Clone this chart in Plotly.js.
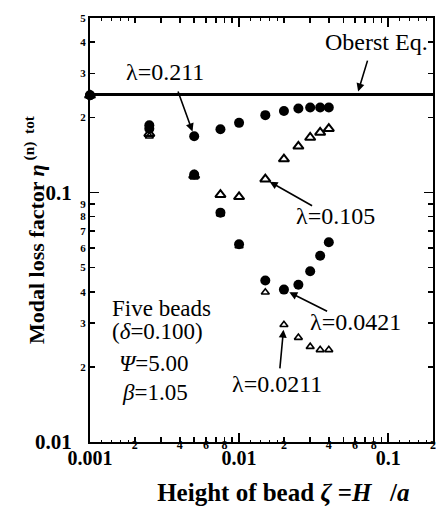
<!DOCTYPE html>
<html>
<head>
<meta charset="utf-8">
<script src="https://cdn.plot.ly/plotly-3.0.1.min.js"></script>
<style>
  html, body { margin: 0; padding: 0; background: #fff; }
  #chart { width: 436px; height: 512px; }
</style>
</head>
<body>
<div id="chart"></div>
<script>
// ---- data ----
const zeta = [0.001, 0.0025, 0.005, 0.0075, 0.01, 0.015, 0.02, 0.025, 0.03, 0.035, 0.04];
const etaLam0211 = [0.245, 0.186, 0.168, 0.179, 0.190, 0.204, 0.212, 0.217, 0.219, 0.219, 0.219];
const etaLam0105 = [0.245, 0.172, 0.117, 0.098, 0.096, 0.113, 0.136, 0.153, 0.166, 0.174, 0.180];
const etaLam00421 = [0.245, 0.180, 0.118, 0.083, 0.062, 0.0444, 0.0408, 0.0427, 0.0483, 0.0558, 0.0632];
const etaLam00211 = [0.245, 0.168, 0.115, 0.082, 0.061, 0.0398, 0.0295, 0.0262, 0.0241, 0.0234, 0.0234];
const oberstX = [0.001, 0.2];
const oberstEta = [0.247, 0.247];

const xMinorVals = [0.002,0.003,0.004,0.005,0.006,0.007,0.008,0.009,
                    0.02,0.03,0.04,0.05,0.06,0.07,0.08,0.09,0.2];
const xMinorText = ['2','','4','','6','','8','',
                    '2','','4','','6','','8','','2'];
const xFineVals = [0.0012,0.0014,0.0016,0.0018,0.012,0.014,0.016,0.018,0.12,0.14,0.16,0.18];
const xMajorVals = [0.001, 0.01, 0.1];
const xMajorText = ['0.001', '0.01', '0.1'];
const yMinorVals = [0.02,0.03,0.04,0.05,0.06,0.07,0.08,0.09,0.2,0.3,0.4,0.5];
const yMinorText = ['2','3','4','5','6','7','8','9','2','3','4','5'];
const yMajorVals = [0.01, 0.1];
const yMajorText = ['0.01', '0.1'];

const SERIF = 'Liberation Serif, Times New Roman, serif';
const lg = Math.log10;

const traces = [
  { x: zeta, y: etaLam00211, mode: 'markers', type: 'scatter', cliponaxis: false,
    marker: { symbol: 'triangle-up-open', size: 7, color: '#000', line: { width: 1.6, color: '#000' } } },
  { x: zeta, y: etaLam0105, mode: 'markers', type: 'scatter', cliponaxis: false,
    marker: { symbol: 'triangle-up-open', size: 9, color: '#000', line: { width: 2, color: '#000' } } },
  { x: zeta, y: etaLam00421, mode: 'markers', type: 'scatter', cliponaxis: false,
    marker: { symbol: 'circle', size: 10, color: '#000' } },
  { x: zeta, y: etaLam0211, mode: 'markers', type: 'scatter', cliponaxis: false,
    marker: { symbol: 'circle', size: 10, color: '#000' } },
  { x: oberstX, y: oberstEta, mode: 'lines', type: 'scatter', xaxis: 'x2', yaxis: 'y2',
    line: { color: '#000', width: 3 } }
];

const txt = (text, x, y, extra) => Object.assign({
  text: text, x: x, y: y, xref: 'x', yref: 'y', showarrow: false,
  xanchor: 'center', yanchor: 'middle',
  font: { family: SERIF, size: 24, color: '#000' }
}, extra || {});

const arrow = (ax, ay, x, y, standoff) => ({
  text: ' ', x: x, y: y, ax: ax, ay: ay, xref: 'x', yref: 'y', axref: 'x', ayref: 'y',
  showarrow: true, arrowhead: 2, arrowsize: 1, arrowwidth: 1.6, arrowcolor: '#000',
  standoff: standoff
});

const annotations = [
  txt('Oberst Eq.', -1.0805, -0.3976),
  txt('λ=0.211', -2.4966, -0.5181),
  txt('λ=0.105', -1.3557, -1.0964),
  txt('λ=0.0421', -1.2215, -1.5181),
  txt('λ=0.0211', -1.745, -1.7671),
  txt('Five beads', -2.5235, -1.4659, { font: { family: SERIF, size: 23, color: '#000' } }),
  txt('(<i>δ</i>=0.100)', -2.5503, -1.5582, { font: { family: SERIF, size: 23, color: '#000' } }),
  txt('<i>Ψ</i>=5.00', -2.5772, -1.6867, { font: { family: SERIF, size: 23, color: '#000' } }),
  txt('<i>β</i>=1.05', -2.5638, -1.8032, { font: { family: SERIF, size: 23, color: '#000' } }),
  arrow(-1.1208, -0.4378, -1.2013, lg(oberstEta[0]) + 0.012, 0),
  arrow(-2.4295, -0.5622, lg(zeta[2]), lg(etaLam0211[2]), 5),
  arrow(-1.4899, -1.0602, lg(zeta[5]), lg(etaLam0105[5]), 5),
  arrow(-1.3893, -1.4819, lg(zeta[6]), lg(etaLam00421[6]), 6),
  arrow(-1.7315, -1.7390, lg(zeta[6]), lg(etaLam00211[6]), 5)
];

const xRange = [-3, lg(0.2)];
const yRange = [-2, lg(0.5)];
const axisBase = {
  type: 'log', showgrid: false, zeroline: false,
  showline: true, linecolor: '#000', linewidth: 2,
  ticks: 'inside', tickcolor: '#000', tickwidth: 1.5, mirror: 'ticks',
  tickmode: 'array'
};

const layout = {
  width: 436, height: 512,
  margin: { l: 90, r: 3, t: 18, b: 70 },
  paper_bgcolor: '#fff', plot_bgcolor: '#fff',
  showlegend: false,
  font: { family: SERIF, color: '#000' },
  xaxis: Object.assign({}, axisBase, {
    range: xRange, tickvals: xMinorVals, ticktext: xMinorText, ticklen: 5,
    tickfont: { family: SERIF, size: 12, weight: 700, color: '#000' },
    ticklabelstandoff: -9,
    minor: { tickmode: 'array', tickvals: xFineVals, ticks: 'inside', ticklen: 2.5, tickwidth: 1, tickcolor: '#000' },
    title: { text: '&nbsp;&nbsp;&nbsp;&nbsp;&nbsp;&nbsp;&nbsp;Height of bead <i>ζ</i>&nbsp;=<i>H</i>&nbsp;&nbsp;&nbsp;/<i>a</i>',
             font: { family: SERIF, size: 25, weight: 700, color: '#000' }, standoff: 32 }
  }),
  yaxis: Object.assign({}, axisBase, {
    range: yRange, tickvals: yMinorVals, ticktext: yMinorText, ticklen: 5,
    tickfont: { family: SERIF, size: 11, weight: 700, color: '#000' },
    ticklabelstandoff: 0,
    title: { text: 'Modal loss factor <i>η</i><sup> (n)</sup><sup>&nbsp;&nbsp;tot</sup>',
             font: { family: SERIF, size: 22, weight: 700, color: '#000' }, standoff: 30 }
  }),
  xaxis2: Object.assign({}, axisBase, {
    overlaying: 'x', anchor: 'y2', side: 'bottom',
    range: xRange, tickvals: xMajorVals, ticktext: xMajorText, ticklen: 9,
    tickfont: { family: SERIF, size: 20, weight: 700, color: '#000' },
    ticklabelstandoff: -3
  }),
  yaxis2: Object.assign({}, axisBase, {
    overlaying: 'y', anchor: 'x2', side: 'left',
    range: yRange, tickvals: yMajorVals, ticktext: yMajorText, ticklen: 9,
    tickfont: { family: SERIF, size: 21, weight: 700, color: '#000' },
    ticklabelstandoff: 12
  }),
  annotations: annotations
};

Plotly.newPlot('chart', traces, layout, { displayModeBar: false, staticPlot: true });
</script>
</body>
</html>
